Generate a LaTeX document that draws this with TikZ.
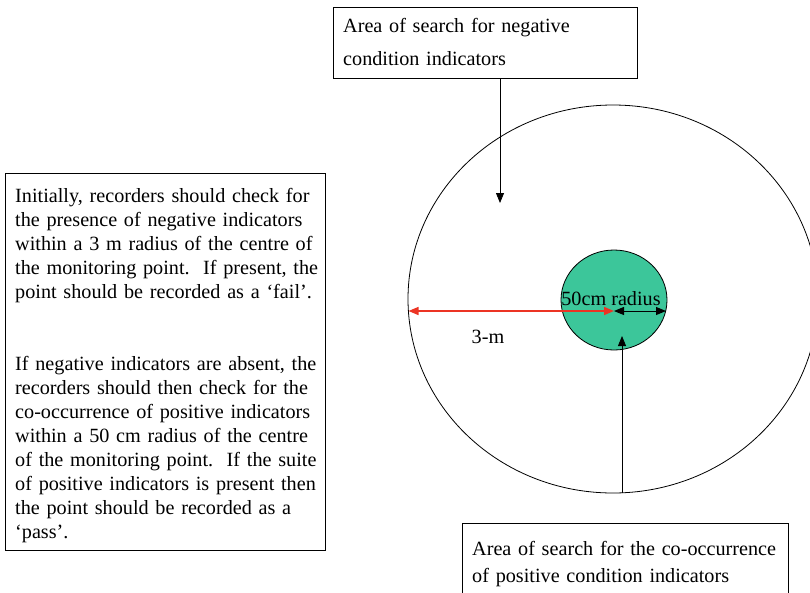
\documentclass[tikz,border=0pt]{standalone}
\usepackage{fontspec}
\setmainfont{Liberation Serif}
\usetikzlibrary{shapes.geometric,arrows.meta}
\definecolor{discgreen}{RGB}{60,198,154}
\definecolor{arrowred}{RGB}{236,52,36}

\begin{document}
\begin{tikzpicture}[x=1pt,y=-1pt]
    % Define styles
    \tikzstyle{textbox} = [draw, rectangle, line width=0.8pt, inner sep=0, anchor=north west]
    \tikzstyle{txt} = [inner sep=0, anchor=base west, align=left, font=\fontsize{20.2}{24}\selectfont]
    \tikzstyle{zone} = [draw, ellipse, line width=0.8pt, inner sep=0]
    \tikzstyle{pointer} = [-{Triangle[length=10pt,width=8pt]}, line width=0.8pt]
    \tikzstyle{ruler} = [{Triangle[length=10pt,width=8pt]}-{Triangle[length=10pt,width=8pt]}, line width=1pt]

    \useasboundingbox (0,0) rectangle (810,592);
    \clip (0,0) rectangle (810,592);

    % Search areas
    \node (outer) [zone, minimum width=410pt, minimum height=388pt] at (613,299) {};
    \node (inner) [zone, fill=discgreen, minimum width=106pt, minimum height=100pt] at (614,300) {};

    % Boxes
    \node (negbox) [textbox, minimum width=304pt, minimum height=71pt] at (333,7) {};
    \node (notebox) [textbox, minimum width=320pt, minimum height=377pt] at (5,173) {};
    \node (posbox) [textbox, minimum width=326pt, minimum height=90pt] at (462,523) {};

    % Texts
    \node (negtext) [txt, text width=290pt, font=\fontsize{20.2}{33}\selectfont] at (343,32)
      {Area of search for negative\\condition indicators};
    \node (postext) [txt, text width=310pt, font=\fontsize{20.2}{27}\selectfont] at (472,555)
      {Area of search for the co-occurrence\\of positive condition indicators};
    \node (notetext) [txt, text width=308pt] at (15,202)
      {Initially, recorders should check for\\
       the presence of negative indicators\\
       within a 3 m radius of the centre of\\
       the monitoring point.\ \ If present, the\\
       point should be recorded as a ‘fail’.\\[48pt]
       If negative indicators are absent, the\\
       recorders should then check for the\\
       co-occurrence of positive indicators\\
       within a 50 cm radius of the centre\\
       of the monitoring point.\ \ If the suite\\
       of positive indicators is present then\\
       the point should be recorded as a\\
       ‘pass’.};
    \node (radlabel) [txt, anchor=base] at (611,305) {50cm radius};
    \node (mlabel) [txt, anchor=base] at (488,343) {3-m};

    % Radii
    \coordinate (edge3m) at (408.5,311);
    \coordinate (centre) at (614,311);
    \coordinate (edge50) at (666,311);
    \draw[ruler, arrowred, line width=1.5pt] (edge3m) -- (centre);
    \draw[ruler] (centre) -- (edge50);

    % Pointers
    \coordinate (negtip) at (500,203);
    \coordinate (postip) at (622,336);
    \draw[pointer] (negbox.south -| negtip) -- (negtip);
    \draw[pointer] (outer.south -| postip) -- (postip);
\end{tikzpicture}
\end{document}
